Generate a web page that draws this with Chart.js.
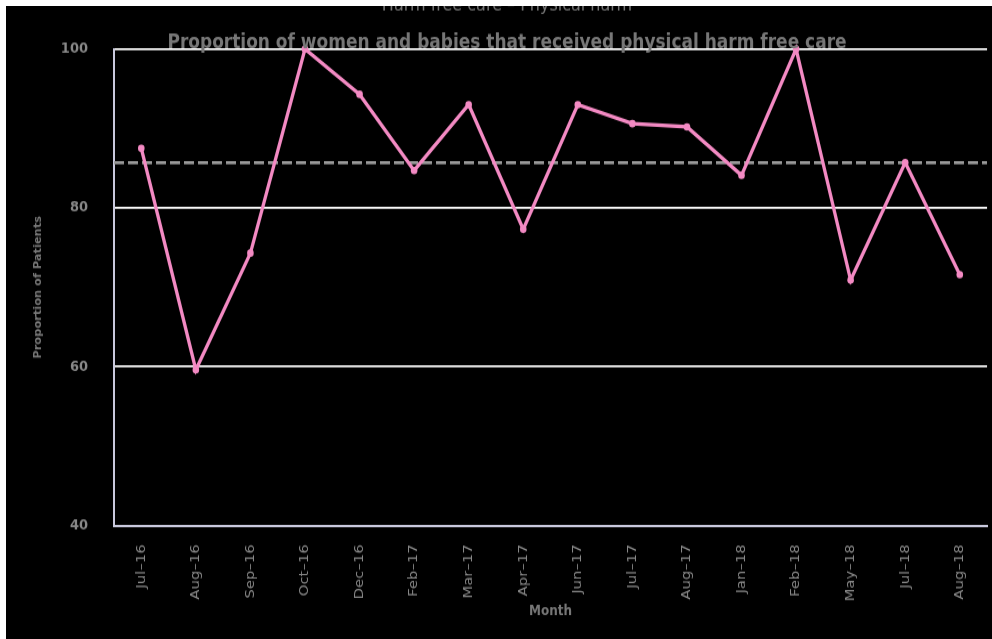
<!DOCTYPE html>
<html>
<head>
<meta charset="utf-8">
<title>Harm free care – Physical harm</title>
<script src="https://cdn.jsdelivr.net/npm/chart.js@4.4.1/dist/chart.umd.min.js"></script>
<style>
  html, body { margin: 0; padding: 0; background: #000; overflow: hidden; width: 992px; height: 639px; }
  .edge { position: absolute; background: #fff; z-index: 2; }
  #top-edge { left: 0; top: 0; width: 992px; height: 6px; }
  #left-edge { left: 0; top: 0; width: 6px; height: 639px; }
  /* the exported chart was stretched a little vertically */
  #chart { position: absolute; left: 6px; top: 6px; transform-origin: 0 0; transform: scaleY(1.1405); }
</style>
</head>
<body>
<div class="edge" id="top-edge"></div>
<div class="edge" id="left-edge"></div>
<canvas id="chart" width="986" height="555"></canvas>
<script>
// monthly audit results
const months = ['Jul–16', 'Aug–16', 'Sep–16', 'Oct–16', 'Dec–16', 'Feb–17', 'Mar–17', 'Apr–17',
    'Jun–17', 'Jul–17', 'Aug–17', 'Jan–18', 'Feb–18', 'May–18', 'Jul–18', 'Aug–18'];
const harmFree = [87.5, 59.6, 74.3, 100, 94.3, 84.7, 93.0, 77.3,
    93.0, 90.6, 90.2, 84.1, 100, 70.9, 85.7, 71.6];
const averageLine = [85.7];
const yTicks = [40, 60, 80, 100];

const mainTitle = 'Harm free care – Physical harm';
const subTitle = 'Proportion of women and babies that received physical harm free care';

const pink = '#f38ac3';
const axisColour = '#c9c9dd';

// both title lines sit over the top of the plot, so draw them by hand
const titlePlugin = {
    id: 'titleLines',
    afterDraw(chart) {
        const ctx = chart.ctx;
        const cx = chart.width / 2 + 8;
        ctx.save();
        ctx.textAlign = 'center';
        ctx.textBaseline = 'alphabetic';
        ctx.fillStyle = '#777';
        ctx.font = '16px "DejaVu Sans"';
        ctx.fillText(mainTitle, cx, 4);
        ctx.font = 'bold 17px "DejaVu Sans"';
        ctx.fillText(subTitle, cx, 36.5);
        ctx.restore();
    }
};

const ctx = document.getElementById('chart').getContext('2d');
const chart = new Chart(ctx, {
    type: 'line',
    data: {
        labels: months,
        datasets: [{
            label: 'Harm free care',
            data: harmFree,
            borderColor: pink,
            backgroundColor: pink,
            borderWidth: 3.3,
            pointRadius: 3.3,
            pointBorderWidth: 0,
            tension: 0,
            clip: false
        }, {
            label: 'Average',
            xAxisID: 'xAvg',
            data: [{ x: 0, y: averageLine[0] }, { x: 1, y: averageLine[0] }],
            borderColor: '#9a9a9a',
            borderWidth: 2.8,
            borderDash: [10, 4],
            pointRadius: 0
        }]
    },
    options: {
        responsive: false,
        animation: false,
        layout: { padding: { top: 37.7, right: 2, left: 0, bottom: 0 } },
        scales: {
            x: {
                offset: true,
                grid: { display: false, drawTicks: false },
                border: { color: axisColour, width: 2 },
                ticks: {
                    color: '#888',
                    font: { family: 'DejaVu Sans', size: 13 },
                    minRotation: 90,
                    maxRotation: 90,
                    padding: 16.5
                },
                title: {
                    display: true,
                    text: 'Month',
                    color: '#777',
                    font: { family: 'DejaVu Sans', size: 12, weight: 'bold' },
                    padding: { top: 0, bottom: 17.3 }
                },
                afterFit: (axis) => { axis.height = 99.5; }
            },
            xAvg: {
                type: 'linear',
                display: false,
                min: 0,
                max: 1
            },
            y: {
                min: yTicks[0],
                max: yTicks[yTicks.length - 1],
                afterBuildTicks: (axis) => { axis.ticks = yTicks.map(v => ({ value: v })); },
                grid: {
                    color: (c) => c.tick && c.tick.value === yTicks[0] ? 'rgba(0,0,0,0)' : '#fff',
                    lineWidth: 1.8,
                    drawTicks: false
                },
                border: { color: axisColour, width: 2 },
                ticks: {
                    color: '#888',
                    font: { family: 'DejaVu Sans', size: 13, weight: 'bold' },
                    padding: 26
                },
                title: {
                    display: true,
                    text: 'Proportion of Patients',
                    color: '#777',
                    font: { family: 'DejaVu Sans', size: 10, weight: 'bold' },
                    padding: { top: 26, bottom: 0 }
                },
                afterFit: (axis) => { axis.width = 108; }
            }
        },
        plugins: {
            legend: { display: false },
            tooltip: { enabled: false }
        }
    },
    plugins: [titlePlugin]
});
</script>
</body>
</html>
